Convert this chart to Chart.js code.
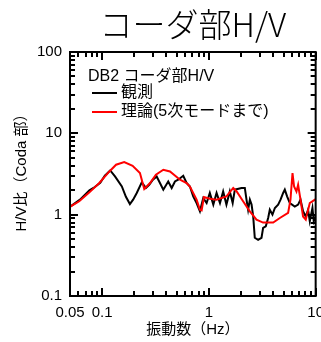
<!DOCTYPE html>
<html><head><meta charset="utf-8">
<script src="https://cdn.jsdelivr.net/npm/chart.js@4.4.1/dist/chart.umd.min.js"></script>
<style>
html,body{margin:0;padding:0;overflow:hidden;background:#fff;width:321px;height:342px}
#wrap{width:332px;height:342px}
</style></head>
<body><div id="wrap"><canvas id="c" width="332" height="342"></canvas></div>
<script>
const chartTitle = 'コーダ部H/V';
const legendTitle = 'DB2 コーダ部H/V';
const xAxisTitle = '振動数（Hz）';
const yAxisTitle = 'H/V比（Coda 部）';
const obsLabel = '観測';
const theoLabel = '理論(5次モードまで)';

const obsFreq = [0.05,0.062,0.076,0.083,0.096,0.106,0.119,0.132,0.153,0.167,0.182,0.195,0.211,0.235,0.257,0.276,0.299,0.324,0.348,0.374,0.416,0.448,0.481,0.516,0.575,0.618,0.664,0.713,0.767,0.824,0.885,0.952,1.02,1.10,1.18,1.27,1.36,1.46,1.57,1.67,1.75,2.02,2.17,2.25,2.33,2.42,2.51,2.60,2.69,2.89,3.11,3.22,3.41,3.59,3.72,3.94,4.15,4.45,4.69,4.96,5.14,5.40,5.73,6.38,6.85,7.21,7.62,8.08,8.49,8.81,9.33,9.60,10.0];
const obsHV = [1.25,1.53,1.99,2.13,2.47,3.01,3.50,2.95,2.22,1.66,1.35,1.53,1.85,2.49,2.13,2.33,2.69,2.95,2.45,2.03,2.56,2.13,2.56,2.69,3.01,2.45,2.22,1.68,1.39,1.10,1.60,1.39,1.85,1.33,1.85,1.39,1.93,1.33,1.93,1.39,2.03,2.13,2.13,1.53,1.15,1.53,1.33,0.95,0.52,0.49,0.52,0.69,0.72,0.91,1.15,1.00,1.21,1.33,1.53,1.85,2.03,1.68,1.39,1.26,1.33,1.53,1.10,0.95,1.15,0.83,1.21,0.83,0.95];

const theoFreq = [0.05,0.061,0.076,0.094,0.117,0.135,0.161,0.193,0.226,0.248,0.281,0.319,0.374,0.432,0.536,0.618,0.664,0.767,0.824,0.855,0.898,1.02,1.18,1.46,1.69,1.82,2.09,2.42,2.79,3.22,4.00,4.62,5.52,5.81,6.07,6.28,6.61,6.85,7.21,7.62,8.08,8.81,10.0];
const theoHV = [1.25,1.46,1.88,2.45,3.40,4.11,4.43,3.99,3.25,2.07,2.45,3.10,3.57,3.40,2.69,2.45,2.22,1.53,1.15,1.13,1.65,1.57,1.53,1.68,2.13,1.93,1.46,1.10,0.87,0.80,0.80,0.91,1.05,1.53,3.25,2.22,1.93,2.33,1.53,0.95,0.87,1.39,1.55];

const xTickValues = [0.05,0.06,0.07,0.08,0.09,0.1,0.2,0.3,0.4,0.5,0.6,0.7,0.8,0.9,1,2,3,4,5,6,7,8,9,10];
const xMajorTicks = [0.1,1,10];
const xLabelValues = [0.05,0.1,1,10];
const xLabelTexts = ['0.05','0.1','1','10'];

const yTickValues = [0.1,0.2,0.3,0.4,0.5,0.6,0.7,0.8,0.9,1,2,3,4,5,6,7,8,9,10,20,30,40,50,60,70,80,90,100];
const yMajorTicks = [0.1,1,10,100];
const yLabelValues = [0.1,1,10,100];
const yLabelTexts = ['0.1','1','10','100'];

const FONT = "'Liberation Sans','Noto Sans CJK JP',sans-serif";
Chart.defaults.font.family = FONT;
Chart.defaults.color = '#000';

const framePlugin = {
  id: 'frame',
  afterDraw(chart) {
    const ctx = chart.ctx;
    const a = chart.chartArea;
    const x = chart.scales.x, y = chart.scales.y;
    ctx.save();
    ctx.fillStyle = '#000';
    for (const v of xTickValues) {
      const px = Math.round(x.getPixelForValue(v));
      const len = xMajorTicks.indexOf(v) >= 0 ? 8 : 5;
      ctx.fillRect(px - 1, a.bottom - len, 2, len);
      ctx.fillRect(px - 1, a.top, 2, len);
    }
    for (const v of yTickValues) {
      const py = Math.round(y.getPixelForValue(v));
      const len = yMajorTicks.indexOf(v) >= 0 ? 8 : 5;
      ctx.fillRect(a.left, py - 1, len, 2);
      ctx.fillRect(a.right - len, py - 1, len, 2);
    }
    ctx.strokeStyle = '#000';
    ctx.lineWidth = 2;
    ctx.strokeRect(a.left, a.top, a.right - a.left, a.bottom - a.top);

    ctx.font = "300 33px 'Noto Sans CJK JP','Liberation Sans',sans-serif";
    ctx.textAlign = 'center';
    ctx.textBaseline = 'alphabetic';
    ctx.fillText(chartTitle, (a.left + a.right) / 2, 37);

    ctx.save();
    ctx.translate(22, 169);
    ctx.rotate(-Math.PI / 2);
    ctx.font = "15px " + FONT;
    ctx.textAlign = 'center';
    ctx.textBaseline = 'middle';
    ctx.fillText(yAxisTitle, 0, 0);
    ctx.restore();

    ctx.font = "16px " + FONT;
    ctx.textAlign = 'left';
    ctx.textBaseline = 'alphabetic';
    ctx.fillText(legendTitle, a.left + 18, 81);
    ctx.textBaseline = 'middle';
    chart.data.datasets.forEach((ds, i) => {
      const ly = 93 + i * 19;
      ctx.strokeStyle = ds.borderColor;
      ctx.lineWidth = 2;
      ctx.beginPath();
      ctx.moveTo(a.left + 22, ly); ctx.lineTo(a.left + 47, ly);
      ctx.stroke();
      ctx.fillText(ds.label, a.left + 51, ly);
    });
    ctx.restore();
  }
};

new Chart(document.getElementById('c'), {
  type: 'line',
  data: {
    datasets: [
      {label: obsLabel, data: obsFreq.map((f, i) => ({x: f, y: obsHV[i]})), borderColor: '#000000', borderWidth: 2, pointRadius: 0, tension: 0, fill: false, order: 1},
      {label: theoLabel, data: theoFreq.map((f, i) => ({x: f, y: theoHV[i]})), borderColor: '#ff0000', borderWidth: 2, pointRadius: 0, tension: 0, fill: false, order: 0}
    ]
  },
  options: {
    responsive: false,
    animation: false,
    devicePixelRatio: 1,
    layout: {padding: {top: 52, right: 14, left: 0, bottom: 0}},
    plugins: {legend: {display: false}, tooltip: {enabled: false}, title: {display: false}},
    scales: {
      x: {
        type: 'logarithmic', min: 0.05, max: 10,
        afterBuildTicks: s => { s.ticks = xTickValues.map(v => ({value: v, major: xMajorTicks.includes(v)})); },
        afterFit: s => { s.height = 46; },
        grid: {display: false, drawTicks: false},
        border: {display: false},
        ticks: {autoSkip: false, maxRotation: 0, padding: 8, font: {size: 15}, color: '#000',
          callback: (v, i, ticks) => { const k = xLabelValues.indexOf(ticks[i].value); return k >= 0 ? xLabelTexts[k] : ''; }},
        title: {display: true, text: xAxisTitle, font: {size: 15}, color: '#000', padding: {top: 0, bottom: 3}}
      },
      y: {
        type: 'logarithmic', min: 0.1, max: 100,
        afterBuildTicks: s => { s.ticks = yTickValues.map(v => ({value: v, major: yMajorTicks.includes(v)})); },
        afterFit: s => { s.width = 70; },
        grid: {display: false, drawTicks: false},
        border: {display: false},
        ticks: {autoSkip: false, padding: 8, font: {size: 15}, color: '#000',
          callback: (v, i, ticks) => { const k = yLabelValues.indexOf(ticks[i].value); return k >= 0 ? yLabelTexts[k] : ''; }},
        title: {display: false}
      }
    }
  },
  plugins: [framePlugin]
});
</script>
</body></html>
